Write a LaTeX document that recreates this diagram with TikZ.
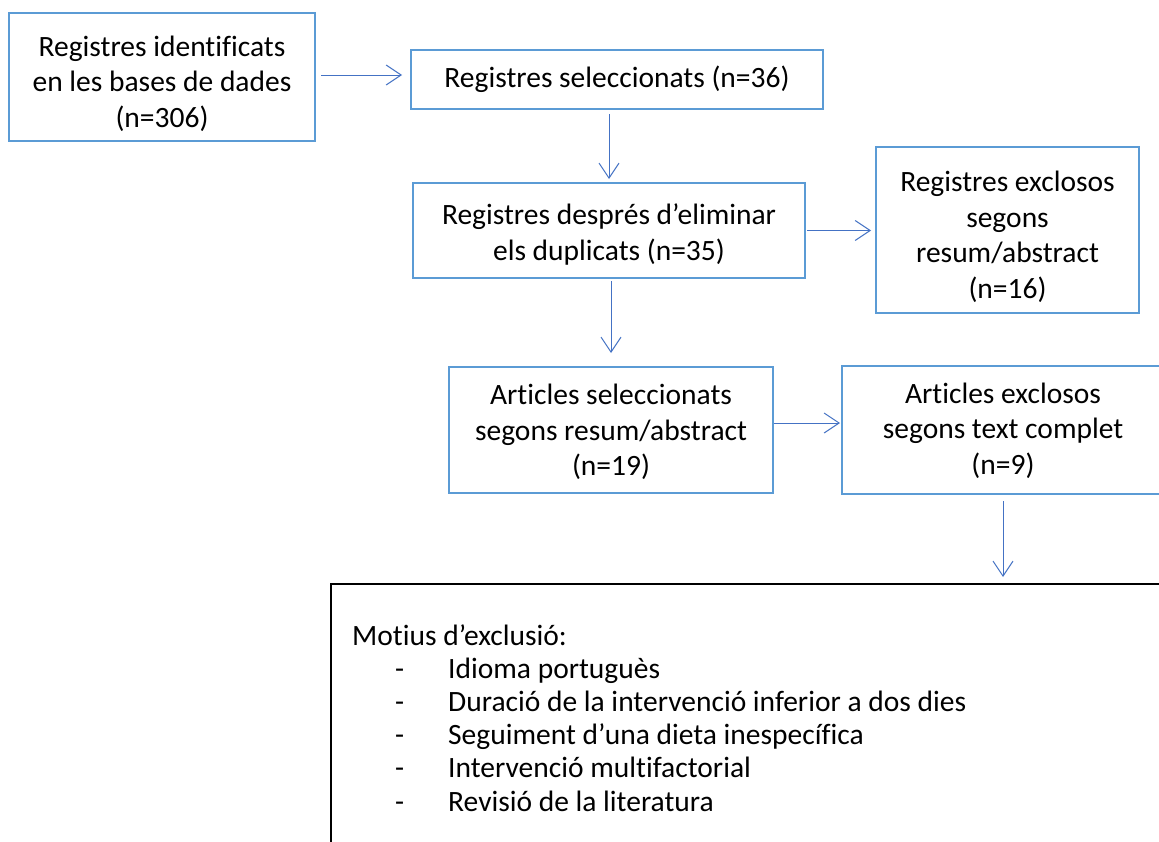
\documentclass[tikz,border=0pt]{standalone}
\usepackage{fontspec}
\setmainfont[Ligatures=CommonOff]{Carlito}
\usetikzlibrary{arrows.meta,calc}
\definecolor{boxblue}{HTML}{5B9BD5}
\definecolor{arrblue}{HTML}{4472C4}
\newcommand{\toppad}[1]{\rule{0pt}{#1}}
\begin{document}
\begin{tikzpicture}[x=1pt,y=-1pt,
  box/.style={draw=boxblue,line width=2pt,inner sep=0pt,align=center,font=\fontsize{29.5}{35.5}\selectfont},
  conn/.style={draw=arrblue,line width=1pt,-{Straight Barb[length=15pt,width=20pt]}}]
\useasboundingbox (0,0) rectangle (1159,841);
\clip (0,0) rectangle (1159,841);
\fill[white] (0,0) rectangle (1159,841);

\node[box,minimum width=306pt,minimum height=128pt] (b1) at (162,77)
  {\toppad{34pt}Registres identificats\\en les bases de dades\\(n=306)};
\node[box,minimum width=412pt,minimum height=59pt] (b2) at (617,79.5)
  {Registres seleccionats (n=36)};
\node[box,minimum width=392pt,minimum height=95pt] (b3) at (609,230.5)
  {\toppad{29pt}Registres després d’eliminar\\els duplicats (n=35)};
\node[box,minimum width=263pt,minimum height=166pt] (b4) at (1007.5,230)
  {\toppad{34pt}Registres exclosos\\segons\\resum/abstract\\(n=16)};
\node[box,minimum width=324pt,minimum height=126pt] (b5) at (611,430)
  {\toppad{25pt}Articles seleccionats\\segons resum/abstract\\(n=19)};
\node[box,minimum width=322pt,minimum height=128pt] (b6) at (1003,430)
  {\toppad{22pt}Articles exclosos\\segons text complet\\(n=9)};

\node[draw=black,line width=2pt,inner sep=0pt,minimum width=850pt,minimum height=280pt,anchor=north west] (excl) at (330,583) {};
\node[anchor=north west,inner sep=0pt,align=left,font=\fontsize{29.5}{33.2}\selectfont] (motius) at (352,624)
  {Motius d’exclusió:\\
   \makebox[96pt][l]{\hspace*{43pt}-}Idioma portuguès\\
   \makebox[96pt][l]{\hspace*{43pt}-}Duració de la intervenció inferior a dos dies\\
   \makebox[96pt][l]{\hspace*{43pt}-}Seguiment d’una dieta inespecífica\\
   \makebox[96pt][l]{\hspace*{43pt}-}Intervenció multifactorial\\
   \makebox[96pt][l]{\hspace*{43pt}-}Revisió de la literatura};

\draw[conn,shorten <=5pt,shorten >=8pt] ([yshift=2pt]b1.east) -- ([yshift=2pt]b1.east -| b2.west);
\draw[conn,shorten <=4pt,shorten >=3pt] (b3.north |- b2.south) -- (b3.north);
\draw[conn,shorten <=1pt,shorten >=4pt] (b3.east) -- (b3.east -| b4.west);
\draw[conn,shorten <=2pt,shorten >=13pt] (b5.north |- b3.south) -- (b5.north);
\draw[conn,shorten <=0pt,shorten >=1pt] ([yshift=7pt]b5.east) -- ([yshift=7pt]b5.east -| b6.west);
\draw[conn,shorten <=6pt,shorten >=6pt] (b6.south) -- (b6.south |- excl.north);
\end{tikzpicture}
\end{document}
